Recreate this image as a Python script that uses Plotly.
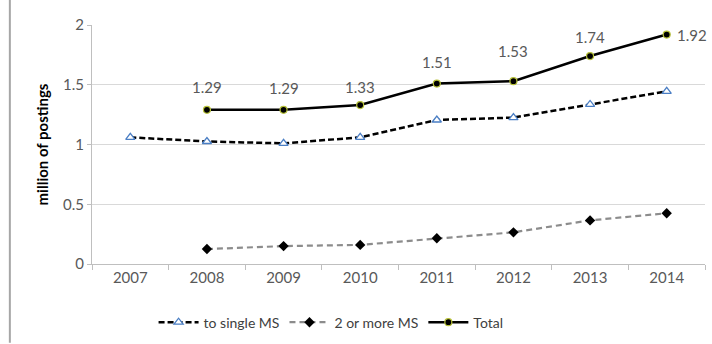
import plotly.graph_objects as go

years = ["2007", "2008", "2009", "2010", "2011", "2012", "2013", "2014"]
single_ms = [1.06, 1.025, 1.01, 1.06, 1.205, 1.225, 1.335, 1.445]
multi_ms = [None, 0.125, 0.15, 0.16, 0.215, 0.265, 0.365, 0.425]
total = [None, 1.29, 1.29, 1.33, 1.51, 1.53, 1.74, 1.92]

FONT = "Lato"
GREY_TXT = "#595959"

fig = go.Figure()

fig.add_trace(go.Scatter(
    x=years, y=single_ms, name="to single MS", mode="lines+markers",
    line=dict(color="black", width=2.5, dash="6px,3px"),
    marker=dict(symbol="triangle-up", size=8, color="white",
                line=dict(color="#4a7ec4", width=1.3)),
))
fig.add_trace(go.Scatter(
    x=years, y=multi_ms, name="2 or more MS", mode="lines+markers",
    line=dict(color="#8c8c8c", width=2.2, dash="6px,4px"),
    marker=dict(symbol="diamond", size=8, color="black"),
))
fig.add_trace(go.Scatter(
    x=years, y=total, name="Total", mode="lines+markers",
    line=dict(color="black", width=2.5),
    marker=dict(symbol="circle", size=7, color="black",
                line=dict(color="#b8c23a", width=1.2)),
))

# value labels for the Total series (x given as category index)
label_shift = [None, 23, 22, 18, 22, 30, 19, 0]
for i, (v, s) in enumerate(zip(total, label_shift)):
    if v is None:
        continue
    last = i == len(total) - 1
    fig.add_annotation(
        x=i, y=v, xref="x", yref="y", text=f"{v:.2f}", showarrow=False,
        xanchor="left" if last else "center",
        xshift=8 if last else 0, yshift=0 if last else s,
        font=dict(family=FONT, size=15, color=GREY_TXT),
    )

# frame line on the left edge
fig.add_shape(type="line", xref="paper", yref="paper",
              x0=-0.134, x1=-0.134, y0=-0.33, y1=1.11,
              line=dict(color="#a6a6a6", width=2))

fig.update_layout(
    width=712, height=344,
    margin=dict(l=92, r=7, t=25, b=79),
    paper_bgcolor="white", plot_bgcolor="white",
    font=dict(family=FONT, color=GREY_TXT, size=14),
    showlegend=True,
    legend=dict(orientation="h", x=0.39, xanchor="center", y=-0.24, yanchor="middle",
                font=dict(family=FONT, size=14, color="#404040"),
                itemwidth=40, tracegroupgap=0),
)
fig.update_xaxes(
    type="category", range=[-0.5, 7.5],
    showline=True, linecolor="#bfbfbf", linewidth=1,
    ticks="outside", tickson="boundaries", ticklen=5, tickcolor="#bfbfbf",
    showgrid=False, tickfont=dict(size=15, color=GREY_TXT, family=FONT),
)
fig.update_yaxes(
    range=[0, 2], dtick=0.5, tickformat="~g",
    showgrid=True, gridcolor="#d9d9d9", gridwidth=1,
    showline=True, linecolor="#bfbfbf", linewidth=1,
    ticks="outside", ticklen=4, tickcolor="#bfbfbf",
    zeroline=False,
    tickfont=dict(size=15, color=GREY_TXT, family=FONT),
    title=dict(text="<b>million of postings</b>", standoff=10,
               font=dict(size=15, color="black", family=FONT)),
)

fig.write_html("out.html")
